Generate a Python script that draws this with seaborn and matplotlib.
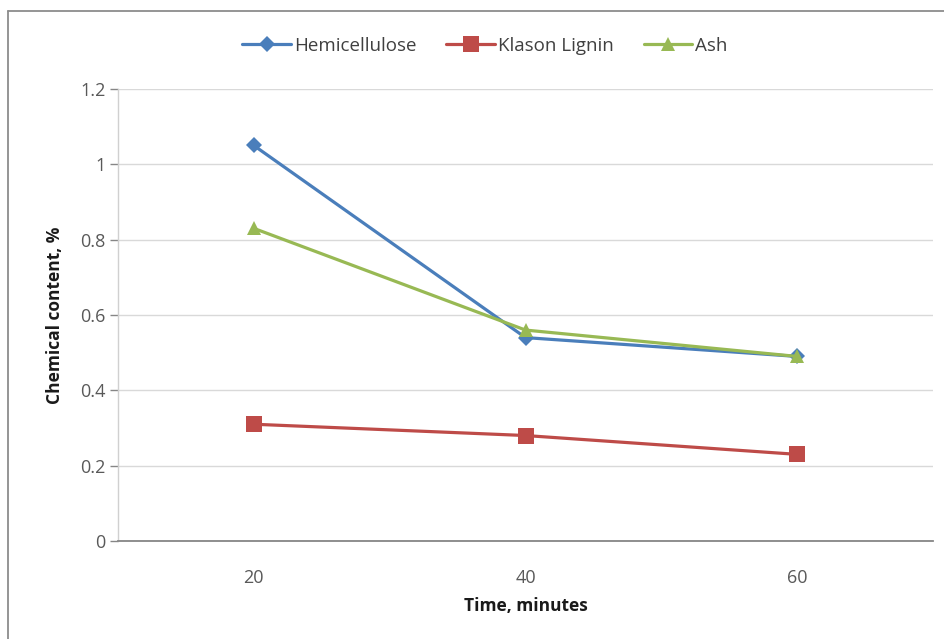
import matplotlib
matplotlib.use("Agg")
import matplotlib.pyplot as plt
import seaborn as sns
import pandas as pd
from matplotlib.lines import Line2D

times = ["20", "40", "60"]
series_names = ["Hemicellulose", "Klason Lignin", "Ash"]
hemicellulose = [1.05, 0.54, 0.49]
klason_lignin = [0.31, 0.28, 0.23]
ash = [0.83, 0.56, 0.49]
y_ticks = [0, 0.2, 0.4, 0.6, 0.8, 1.0, 1.2]
y_tick_labels = ["0", "0.2", "0.4", "0.6", "0.8", "1", "1.2"]

rows = []
for name, vals in zip(series_names, [hemicellulose, klason_lignin, ash]):
    for t, v in zip(times, vals):
        rows.append({"Time": t, "Value": v, "Series": name})
df = pd.DataFrame(rows)

sns.set_style("white")
plt.rcParams["font.family"] = ["Open Sans", "DejaVu Sans"]

fig = plt.figure(figsize=(9.45, 6.39), dpi=100)
ax = fig.add_axes([118 / 945, 1 - 541 / 639, 815 / 945, 452 / 639])

palette = {"Hemicellulose": "#4A7EBB", "Klason Lignin": "#BE4B48", "Ash": "#98B954"}
markers = {"Hemicellulose": "D", "Klason Lignin": "s", "Ash": "^"}
msizes = {"Hemicellulose": 8, "Klason Lignin": 11, "Ash": 10}

for name in series_names:
    sub = df[df["Series"] == name]
    sns.lineplot(data=sub, x="Time", y="Value", ax=ax, color=palette[name],
                 marker=markers[name], markersize=msizes[name], linewidth=2.3,
                 markeredgewidth=0, label=name, sort=False)

ax.set_xlim(-0.5, 2.5)
ax.set_ylim(0, 1.2)
ax.set_yticks(y_ticks)
ax.set_yticklabels(y_tick_labels)
ax.yaxis.grid(True, color="#D9D9D9", linewidth=1)
ax.set_axisbelow(True)
for s in ["top", "right"]:
    ax.spines[s].set_visible(False)
ax.spines["left"].set_color("#D0D0D0")
ax.spines["bottom"].set_color("#868686")
ax.spines["left"].set_linewidth(1)
ax.spines["bottom"].set_linewidth(1.3)
ax.tick_params(axis="y", which="both", left=True, length=5.8, width=1, color="#868686",
               labelsize=13, labelcolor="#595959", pad=3)
ax.tick_params(axis="x", bottom=False, labelsize=13, labelcolor="#595959", pad=17)

ax.set_xlabel("Time, minutes", fontsize=12.5, fontweight="bold", color="#1a1a1a", labelpad=7)
ax.set_ylabel("Chemical content, %", fontsize=12.5, fontweight="bold", color="#1a1a1a", labelpad=12)

handles, labels = ax.get_legend_handles_labels()
if ax.legend_:
    ax.legend_.remove()
fig.legend(handles, labels, loc="center", bbox_to_anchor=(485 / 945, 1 - 46 / 639), ncol=3,
           frameon=False, fontsize=13.5, handlelength=2.6, columnspacing=1.6,
           handletextpad=0.15, labelcolor="#404040")

# partial chart-area border (left and top edges visible)
fig.add_artist(Line2D([8.5 / 945, 8.5 / 945], [0, 1 - 11 / 639], transform=fig.transFigure,
                      color="#8C8C8C", linewidth=1.3))
fig.add_artist(Line2D([8 / 945, 1], [1 - 11 / 639, 1 - 11 / 639], transform=fig.transFigure,
                      color="#8C8C8C", linewidth=1.3))

fig.savefig("out.png", dpi=100)
